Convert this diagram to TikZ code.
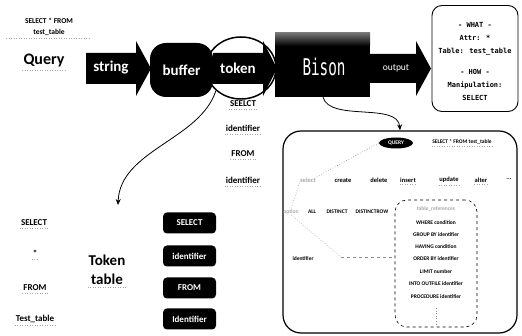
\documentclass[tikz,border=0pt]{standalone}
\usepackage{fontspec}
\usepackage{graphicx}
\setmainfont{Carlito}
\newfontfamily\monof{DejaVu Sans Mono}
\usetikzlibrary{shapes.geometric,arrows.meta}
\begin{document}
\begin{tikzpicture}[x=1pt,y=-1pt,
  uline/.style={draw=black!35, dotted, line width=0.5pt},
  ul/.style={append after command={([yshift=-1.5pt]\tikzlastnode.south west) edge[uline] ([yshift=-1.5pt]\tikzlastnode.south east)}},
  lbl/.style={font=\bfseries\fontsize{9}{10}\selectfont, inner sep=1pt},
  bigtxt/.style={font=\bfseries\fontsize{15}{16}\selectfont, inner sep=1pt},
  whitetxt/.style={text=white, font=\bfseries\fontsize{15}{16}\selectfont, inner sep=0pt},
  rowtxt/.style={font=\bfseries\fontsize{6.5}{7}\selectfont, inner sep=0.5pt},
  smalltxt/.style={font=\bfseries\fontsize{5.5}{6}\selectfont, inner sep=0.5pt},
  faint/.style={text=black!35},
  darkbox/.style={fill=black, rounded corners=4pt, text=white, font=\bfseries\fontsize{9}{10}\selectfont,
                  minimum width=53pt, minimum height=21pt, inner sep=0pt},
  dotc/.style={draw=black!45, dotted, line width=0.6pt},
  link/.style={line width=0.8pt, -{Stealth[length=6pt,width=5pt]}}
]
\useasboundingbox (0,0) rectangle (522,336);

% --- query source
\node[font=\bfseries\fontsize{7.5}{8}\selectfont, inner sep=0.5pt] (sqlA) at (49,21) {SELECT * FROM};
\node[font=\bfseries\fontsize{7.5}{8}\selectfont, inner sep=0.5pt] (sqlB) at (49,32) {test\_table};
\draw[uline] (6,38) -- (90,38);
\node[bigtxt, font=\bfseries\fontsize{16}{17}\selectfont, ul] (query) at (44,61) {Query};

% --- string arrow
\fill (86,53) -- (136,53) -- (136,41) -- (151,68.5) -- (136,96) -- (136,84) -- (86,84) -- cycle;
\node[whitetxt] (str) at (111,68) {string};

% --- buffer
\node[fill=black, rounded corners=16pt, minimum width=63pt, minimum height=54pt, text=white,
      font=\bfseries\fontsize{15}{16}\selectfont] (buf) at (181.5,70) {buffer};

% --- token arrow with ring
\fill (213,53) -- (263,53) -- (263,41) -- (277,68.5) -- (263,96) -- (263,84) -- (213,84) -- cycle;
\node[whitetxt] (tok) at (238,68) {token};
\node[draw, ellipse, line width=1.5pt, minimum width=70pt, minimum height=62pt, inner sep=0pt] (tokring) at (241,68) {};

% --- Bison
\node[fill=black, minimum width=95pt, minimum height=64pt, inner sep=0pt] (bison) at (322.5,65) {};
\shade[top color=black!55, bottom color=black] (275,33) rectangle (370,46);
\node[text=white, font=\monof\fontsize{23}{24}\selectfont, inner sep=0pt] (bisontxt) at (324,67) {\scalebox{0.62}[1]{Bison}};

% --- output arrow
\fill (370,54) -- (416,54) -- (416,41) -- (431,68.5) -- (416,96) -- (416,83) -- (370,83) -- cycle;
\node[text=white, font=\fontsize{9.5}{10}\selectfont, inner sep=0pt] (outtxt) at (396,68) {output};

% --- result box
\node[draw, line width=0.9pt, rounded corners=10pt, minimum width=86pt, minimum height=106pt] (res) at (475,58.5) {};
\node[font=\monof\bfseries\fontsize{7}{13}\selectfont, align=center, inner sep=0pt] (restxt) at (475,62)
  {- WHAT -\\ Attr: *\\ Table: test\_table\\[8pt] - HOW -\\ Manipulation:\\ SELECT};

% --- token stream
\node[lbl, ul] (t1) at (243,104) {SEELCT};
\node[lbl, ul] (t2) at (243,128) {identifier};
\node[lbl, ul] (t3) at (243,154) {FROM};
\node[lbl, ul] (t4) at (243,180) {identifier};

% --- link to token table
\coordinate (ttop) at (118,205);
\draw[link] (tokring.222) .. controls (200,140) and (120,150) .. (ttop);

% --- token table
\node[lbl, ul] (w1) at (34,223) {SELECT};
\node[lbl, ul] (w2) at (35,253) {*};
\node[lbl, ul] (w3) at (35,288) {FROM};
\node[lbl, ul] (w4) at (35,319) {Test\_table};
\node[bigtxt, align=center, font=\bfseries\fontsize{15}{19}\selectfont, ul] (ttab) at (107,270) {Token\\table};
\node[darkbox] (k1) at (189.5,223) {SELECT};
\node[darkbox] (k2) at (189.5,256) {identifier};
\node[darkbox] (k3) at (189.5,288) {FROM};
\node[darkbox] (k4) at (189.5,319) {Identifier};

% --- parse tree box
\node[draw, line width=1.2pt, rounded corners=18pt, minimum width=234pt, minimum height=202pt] (qbox) at (400,232) {};
\draw[link] (bison.south) ++(0.5,0) coordinate (bs) (bs) .. controls (330,122) and (398,102) .. (qbox.north);

\node[fill=black, ellipse, minimum width=34pt, minimum height=11pt, inner sep=0pt, text=white,
      font=\bfseries\fontsize{5.5}{6}\selectfont] (qry) at (396,143) {QUERY};
\node[smalltxt, ul] (stmt) at (462,142) {SELECT * FROM test\_table};

\node[rowtxt, faint] (sel1) at (308,180) {select};
\node[rowtxt] (c2) at (343,180) {create};
\node[rowtxt] (c3) at (379,180) {delete};
\node[rowtxt, ul] (c4) at (408,180) {insert};
\node[rowtxt, ul] (c5) at (449,180) {update};
\node[rowtxt, ul] (c6) at (481,180) {alter};
\node[rowtxt] (c7) at (509,179) {...};

\node[smalltxt, faint] (sel2) at (291,212) {option};
\node[smalltxt] (o1) at (312,212) {ALL};
\node[smalltxt] (o2) at (337,212) {DISTINCT};
\node[smalltxt] (o3) at (372,212) {DISTINCTROW};

\node[smalltxt] (ident) at (303,259) {identifier};

\node[draw, dashed, line width=0.6pt, rounded corners=12pt, minimum width=82pt, minimum height=127pt] (clauses) at (436,263.5) {};
\node[smalltxt, faint] (s0) at (436,209) {table\_references};
\node[smalltxt] (s1) at (436,222.5) {WHERE condition};
\node[smalltxt] (s2) at (436,234.5) {GROUP BY identifier};
\node[smalltxt] (s3) at (436,246.5) {HAVING condition};
\node[smalltxt] (s4) at (436,259) {ORDER BY identifier};
\node[smalltxt] (s5) at (436,271.5) {LIMIT number};
\node[smalltxt] (s6) at (436,284) {INTO OUTFILE identifier};
\node[smalltxt] (s7) at (436,297) {PROCEDURE identifier};
\coordinate (more) at (436,308);
\draw[dotc] (more) -- ++(0,16);

% --- dotted tree edges
\coordinate (bend) at (341,257);
\draw[dotc] (qry.west) -- (sel1.north east);
\draw[dotc] (sel1.south west) -- (sel2.north);
\draw[dotc] (sel2.south) -- (bend);
\draw[dotc, dashed] (bend) -- (bend -| clauses.west);
\end{tikzpicture}
\end{document}
